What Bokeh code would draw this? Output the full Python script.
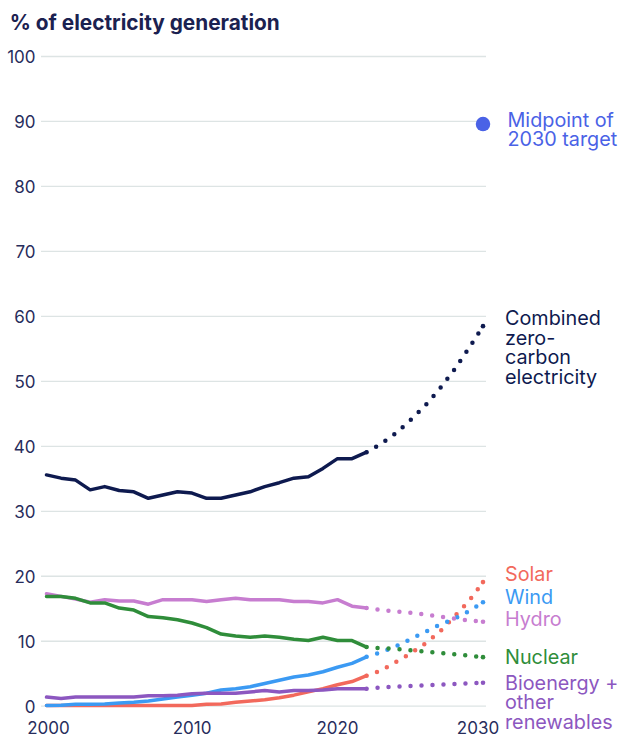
from bokeh.plotting import figure
from bokeh.models import Label, Range1d
from bokeh.embed import file_html
from bokeh.resources import INLINE

# ---------------- data ----------------
years_hist = list(range(2000, 2023))
years_proj = list(range(2022, 2031))

combined_hist = [35.6, 35.1, 34.8, 33.3, 33.8, 33.2, 33.0, 32.0, 32.5, 33.0, 32.8, 32.0,
                 32.0, 32.5, 33.0, 33.8, 34.4, 35.1, 35.3, 36.6, 38.1, 38.1, 39.1]
solar_hist = [0.1, 0.1, 0.1, 0.1, 0.1, 0.1, 0.1, 0.1, 0.1, 0.1, 0.1, 0.3,
              0.35, 0.6, 0.8, 1.0, 1.3, 1.7, 2.2, 2.7, 3.3, 3.8, 4.7]
wind_hist = [0.1, 0.15, 0.3, 0.3, 0.35, 0.5, 0.6, 0.8, 1.1, 1.4, 1.7, 2.0,
             2.5, 2.7, 3.0, 3.5, 4.0, 4.5, 4.8, 5.3, 6.0, 6.6, 7.6]
hydro_hist = [17.3, 16.9, 16.5, 16.0, 16.4, 16.2, 16.2, 15.7, 16.4, 16.4, 16.4, 16.1,
              16.4, 16.6, 16.4, 16.4, 16.4, 16.1, 16.1, 15.9, 16.4, 15.4, 15.1]
nuclear_hist = [16.9, 16.9, 16.6, 15.9, 15.9, 15.1, 14.8, 13.8, 13.6, 13.3, 12.8, 12.1,
                11.1, 10.8, 10.6, 10.8, 10.6, 10.3, 10.1, 10.6, 10.1, 10.1, 9.1]
bio_hist = [1.4, 1.2, 1.4, 1.4, 1.4, 1.4, 1.4, 1.6, 1.6, 1.7, 1.9, 2.0,
            2.0, 2.0, 2.2, 2.4, 2.2, 2.4, 2.4, 2.5, 2.7, 2.7, 2.7]

combined_proj = [39.1, 40.4, 42.0, 44.0, 46.2, 48.8, 51.7, 55.0, 58.5]
solar_proj = [4.7, 5.5, 6.8, 8.1, 9.6, 11.4, 13.7, 16.1, 19.1]
wind_proj = [7.6, 8.3, 9.2, 10.3, 11.4, 12.5, 13.4, 14.6, 16.0]
hydro_proj = [15.1, 14.8, 14.6, 14.4, 14.1, 13.8, 13.5, 13.2, 13.0]
nuclear_proj = [9.1, 8.9, 8.85, 8.6, 8.4, 8.2, 8.0, 7.8, 7.55]
bio_proj = [2.7, 2.9, 3.0, 3.1, 3.2, 3.3, 3.4, 3.5, 3.6]

target_year = [2030]
target_mid = [89.6]

x_ticks = [2000, 2010, 2020, 2030]
y_ticks = [0, 10, 20, 30, 40, 50, 60, 70, 80, 90, 100]

title_text = "% of electricity generation"
target_lines = ["Midpoint of", "2030 target"]
combined_lines = ["Combined", "zero-", "carbon", "electricity"]
bio_lines = ["Bioenergy +", "other", "renewables"]

# ---------------- layout (pixels) ----------------
W, H = 618, 738
PX_X0, PX_PER_YEAR = 46.0, 14.55      # x pixel of 2000, pixels per year
PX_Y0, PX_PER_PCT = 705.7, 6.497      # y pixel of 0 %, pixels per percentage point
X_START = 2000 - PX_X0 / PX_PER_YEAR
X_END = X_START + W / PX_PER_YEAR
Y_START = -(H - PX_Y0) / PX_PER_PCT
Y_END = Y_START + H / PX_PER_PCT
GRID_X0 = 2000 + (40.5 - PX_X0) / PX_PER_YEAR
GRID_X1 = 2000 + (485.5 - PX_X0) / PX_PER_YEAR
x_tick_nudge = [2, 0, 0, -5]          # pixel nudges of the year labels
MID = 0.3635                          # baseline -> middle, in em

# ---------------- style ----------------
FONT = "Inter"
NAVY = "#0e1a4f"
TICK = "#272d5c"
SOLAR = "#f2695c"
WIND = "#3b9af3"
HYDRO = "#c77dd0"
NUCLEAR = "#2f8d3a"
BIO = "#8c57c0"
TARGET = "#4a62e6"
GRID = "#dde4e4"
LBL = 19.8      # series label font size (px)
TCK = 17.0      # tick label font size (px)
TTL = 20.8      # title font size (px)

p = figure(width=W, height=H, output_backend="svg", toolbar_location=None,
           x_range=Range1d(X_START, X_END), y_range=Range1d(Y_START, Y_END),
           x_axis_location=None, y_axis_location=None,
           min_border=0, min_border_left=0, min_border_right=0,
           min_border_top=0, min_border_bottom=0,
           outline_line_color=None,
           background_fill_color="white", border_fill_color="white")
p.xgrid.grid_line_color = None
p.ygrid.grid_line_color = None

# horizontal gridlines
p.segment(x0=[GRID_X0] * len(y_ticks), x1=[GRID_X1] * len(y_ticks),
          y0=y_ticks, y1=y_ticks, line_color=GRID, line_width=1.3)


def add_label(text, x, y, color, baseline_below_px=0.0, x_off=0.0, size=LBL,
              style="normal", align="left", centered=False):
    # baseline_below_px: distance of the text baseline below the anchor point
    below = baseline_below_px if centered else baseline_below_px - MID * size
    p.add_layout(Label(x=x, y=y, x_offset=x_off, y_offset=-below, text=text,
                       text_color=color, text_font=FONT,
                       text_font_size=f"{size}px",
                       text_font_style=style, text_baseline="middle",
                       text_align=align))


# tick labels
for v in y_ticks:
    add_label(str(v), GRID_X0, v, TICK, 0, x_off=-5.5, size=TCK,
              align="right", centered=True)
for t, dx in zip(x_ticks, x_tick_nudge):
    add_label(str(t), t, 0, TICK, 27.0, x_off=dx, size=TCK, align="center")

# series
series = [
    (combined_hist, combined_proj, NAVY),
    (solar_hist, solar_proj, SOLAR),
    (wind_hist, wind_proj, WIND),
    (hydro_hist, hydro_proj, HYDRO),
    (nuclear_hist, nuclear_proj, NUCLEAR),
    (bio_hist, bio_proj, BIO),
]
for hist, proj, col in series:
    p.line(years_hist, hist, line_color=col, line_width=3.5,
           line_join="round", line_cap="round")
    p.line(years_proj, proj, line_color=col, line_width=4.5,
           line_dash="0 11", line_cap="round", line_join="round")

# closing dot of each dotted projection
p.scatter([years_proj[-1]] * len(series), [s[1][-1] for s in series],
          size=4.6, fill_color=[s[2] for s in series], line_color=None)

p.scatter(target_year, target_mid, size=14.5, fill_color=TARGET, line_color=None)

# series labels
LX = 22.0
for i, t in enumerate(target_lines):
    add_label(t, target_year[0], target_mid[0], TARGET, 3 + 18.8 * i, x_off=24.5)
for i, t in enumerate(combined_lines):
    add_label(t, years_proj[-1], combined_proj[-1], NAVY, -0.5 + 19.4 * i, x_off=LX)
add_label("Solar", years_proj[-1], solar_proj[-1], SOLAR, -1, x_off=LX)
add_label("Wind", years_proj[-1], wind_proj[-1], WIND, 1.6, x_off=LX)
add_label("Hydro", years_proj[-1], hydro_proj[-1], HYDRO, 4.7, x_off=LX)
add_label("Nuclear", years_proj[-1], nuclear_proj[-1], NUCLEAR, 6.6, x_off=LX)
for i, t in enumerate(bio_lines):
    add_label(t, years_proj[-1], bio_proj[-1], BIO, 7.0 + 19.8 * i, x_off=LX)

# title
add_label(title_text, x_ticks[0], y_ticks[-1], "#1b2150", -26.7, x_off=-36.7,
          size=TTL, style="bold")

open("out.html", "w").write(file_html(p, INLINE))
